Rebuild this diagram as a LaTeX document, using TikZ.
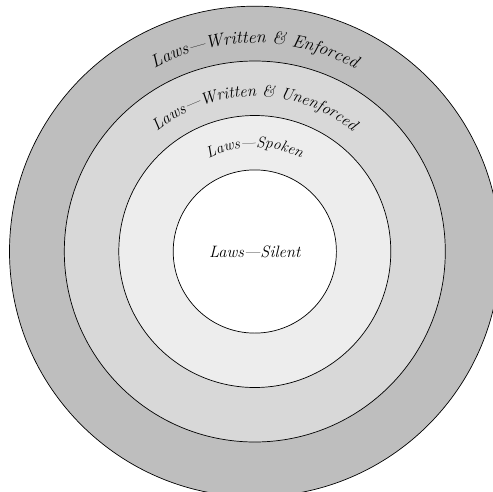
\documentclass[tikz,border=0pt]{standalone}
\usetikzlibrary{decorations.text,calc}
\definecolor{ringA}{RGB}{190,190,190}
\definecolor{ringB}{RGB}{216,216,216}
\definecolor{ringC}{RGB}{237,237,237}
\begin{document}
\begin{tikzpicture}[x=1pt,y=1pt,
  ring/.style={draw=black, line width=0.7pt},
  lbl/.style={font=\itshape\fontsize{16.5}{19}\selectfont},
  arclabel/.style={decorate, decoration={text along path, text align=center, text={#1}}}]
\clip (0,0) rectangle (493,-491);
\fill[white] (0,0) rectangle (493,-491);
\coordinate (c) at (254.8,-251.5);
\draw[ring, fill=ringA] (c) circle[radius=245.3];
\draw[ring, fill=ringB] (c) circle[radius=190.5];
\draw[ring, fill=ringC] (c) circle[radius=136];
\draw[ring, fill=white] (c) circle[radius=81.6];
\path[arclabel={|\itshape\fontsize{17.8}{20}\selectfont|Laws{—}Written {\&} Enforced}]
  ($(c)+(180:208.5)$) arc[start angle=180, end angle=0, radius=208.5];
\path[arclabel={|\itshape\fontsize{16.5}{19}\selectfont|Laws{—}Written {\&} Unenforced}]
  ($(c)+(180:155)$) arc[start angle=180, end angle=0, radius=155];
\path[arclabel={|\itshape\fontsize{15.5}{18}\selectfont|Laws{—}Spoken}]
  ($(c)+(180:104)$) arc[start angle=180, end angle=0, radius=104];
\node[lbl] (silent) at (c) {Laws---Silent};
\end{tikzpicture}
\end{document}
